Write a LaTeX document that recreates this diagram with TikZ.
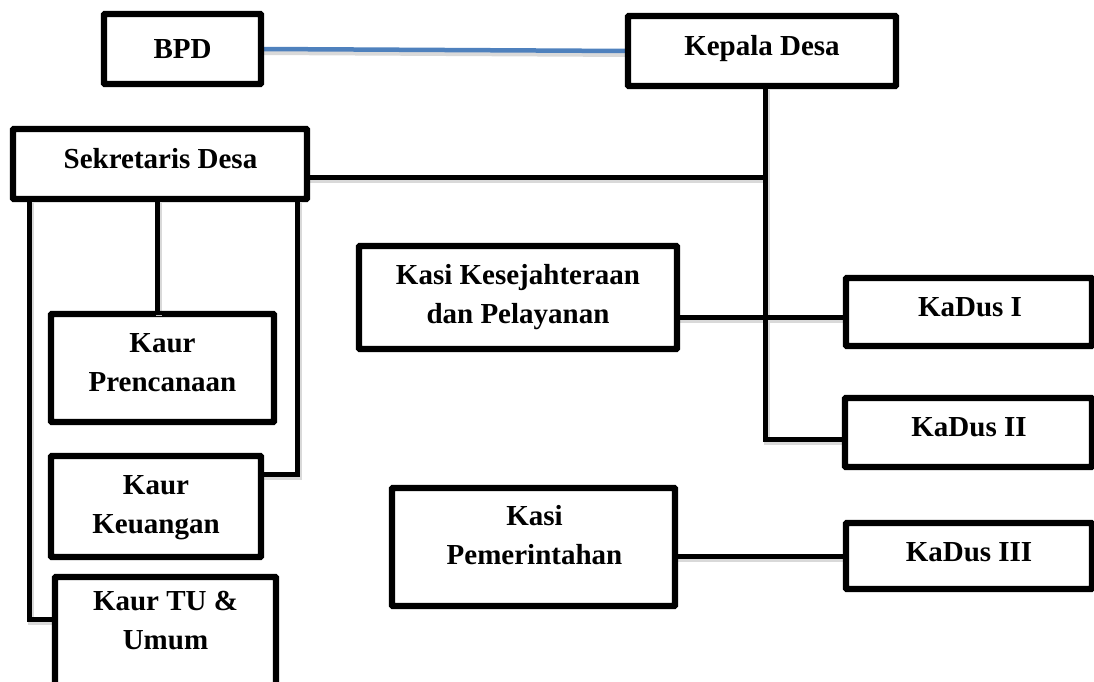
\documentclass[tikz,border=0pt]{standalone}
\usepackage{fontspec}
\setmainfont{Liberation Serif}
\usetikzlibrary{calc}
\definecolor{bpdblue}{RGB}{79,129,189}
\newcommand\myconnpaths[1]{%
  \draw[conn,#1] (kepala.south -| jB) -- (jB) -- (jB -| kadus2.west);
  \draw[conn,#1] (jS -| sek.east) -- (jS);
  \draw[conn,#1] (jK -| kasikes.east) -- (jK -| kadus1.west);
  \draw[conn,#1] (kasipem.east |- kadus3.west) -- (kadus3.west);
  \draw[conn,#1] (sek.south -| cL) -- (cL) -- (cL -| kaurtu.west);
  \draw[conn,#1] (sek.south -| cM) -- (kaurp.north -| cM);
  \draw[conn,#1] (sek.south -| cR) -- (cR) -- (cR -| kaurk.east);
  \draw[conn,line width=4.5pt,bpdblue,#1] (bpd.east) -- (kepala.west);
}
\begin{document}
\begin{tikzpicture}[x=1pt,y=-1pt,
  box/.style={draw, line width=4.2pt, rounded corners=1.5pt, fill=white, inner sep=0pt},
  lbl/.style={font=\fontsize{29}{39}\selectfont\bfseries, align=center, inner sep=0pt},
  shade/.style={draw=black!15, line width=6pt, transform canvas={shift={(1.5pt,-3pt)}}},
  plain/.style={},
  conn/.style={line width=5pt, line join=miter}
]
\useasboundingbox (0,0) rectangle (1094,682);
\clip (0,0) rectangle (1094,682);

% junction coordinates
\coordinate (jS) at (765,177);
\coordinate (jK) at (765,317);
\coordinate (jB) at (765,439);
\coordinate (cL) at (29,619);
\coordinate (cM) at (157,313);
\coordinate (cR) at (297,474);

% boxes
\node[box, minimum width=155pt, minimum height=68pt]  (bpd)     at (182.5,49)  {};
\node[box, minimum width=266pt, minimum height=68pt]  (kepala)  at (762,51)    {};
\node[box, minimum width=292pt, minimum height=68pt]  (sek)     at (160,164)   {};
\node[box, minimum width=221pt, minimum height=106pt] (kaurp)   at (162.5,368) {};
\node[box, minimum width=208pt, minimum height=99pt]  (kaurk)   at (156,506.5) {};
\node[box, minimum width=219pt, minimum height=122pt] (kaurtu)  at (165.5,639) {};
\node[box, minimum width=316pt, minimum height=101pt] (kasikes) at (518,297.5) {};
\node[box, minimum width=281pt, minimum height=116pt] (kasipem) at (533.5,547) {};
\node[box, minimum width=244pt, minimum height=66pt]  (kadus1)  at (969,312)   {};
\node[box, minimum width=245pt, minimum height=67pt]  (kadus2)  at (968.5,432.5) {};
\node[box, minimum width=244pt, minimum height=64pt]  (kadus3)  at (969,556)   {};

% connector shadows, then connectors
\myconnpaths{shade}
\myconnpaths{plain}

% redraw box borders over shadows
\foreach \n in {bpd,kepala,sek,kaurp,kaurk,kaurtu,kasikes,kasipem,kadus1,kadus2,kadus3}{
  \draw[line width=4.2pt, rounded corners=1.5pt] (\n.south west) rectangle (\n.north east);
}

% labels
\node[lbl] (bpdT)     at (182.5,49.4) {BPD};
\node[lbl] (kepalaT)  at (762,48.4)   {Kepala Desa};
\node[lbl] (sekT)     at (160.5,158.2) {Sekretaris Desa};
\node[lbl] (kaurpT)   at (162.5,363)  {Kaur\\Prencanaan};
\node[lbl] (kaurkT)   at (156,507.5)  {Kaur\\Keuangan};
\node[lbl] (kaurtuT)  at (165.5,620.4) {Kaur TU \&\\Umum};
\node[lbl] (kasikesT) at (518,297.4)  {Kasi Kesejahteraan\\dan Pelayanan};
\node[lbl] (kasipemT) at (534.5,535.4) {Kasi\\Pemerintahan};
\node[lbl] (kadus1T)  at (970,307.4)  {KaDus I};
\node[lbl] (kadus2T)  at (969,427.4)  {KaDus II};
\node[lbl] (kadus3T)  at (969,552.4)  {KaDus III};
\end{tikzpicture}
\end{document}
